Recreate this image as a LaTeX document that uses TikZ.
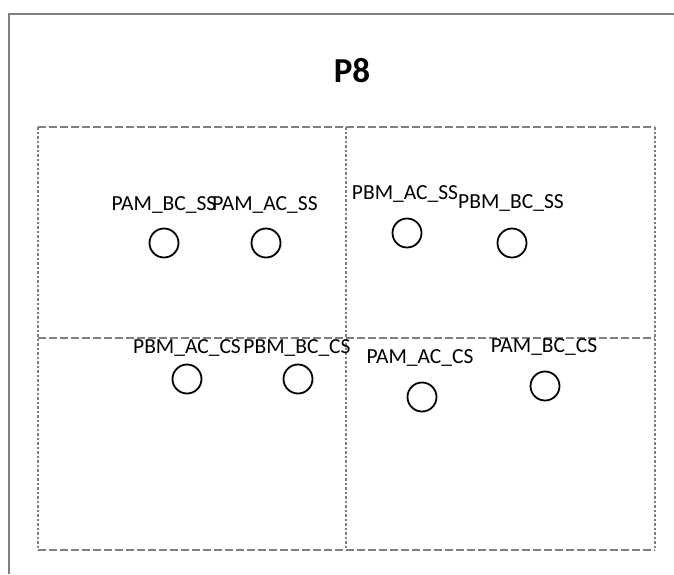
\documentclass[tikz,border=0pt]{standalone}
\usepackage{fontspec}
\setmainfont{Carlito}
\definecolor{framegray}{RGB}{127,127,127}
\tikzset{
  lbl/.style={anchor=base,inner sep=0pt,font=\fontsize{21.5}{24}\selectfont},
  probe/.style={circle,draw,line width=1.8pt,minimum size=29pt,inner sep=0pt},
  dashln/.style={framegray,line width=2.3pt,dash pattern=on 8pt off 3pt},
  dotln/.style={framegray,line width=2.3pt,dash pattern=on 2.5pt off 2pt}
}
\begin{document}
\begin{tikzpicture}[x=1pt,y=-1pt]
\useasboundingbox (0,0) rectangle (674,574);
\draw[framegray,line width=2pt] (9,574) -- (9,14) -- (674,14);
\node[font=\fontsize{35}{38}\selectfont\bfseries] (title) at (352,71) {P8};
\draw[dashln] (38,127) -- (655,127);
\draw[dashln] (38,338) -- (655,338);
\draw[dashln] (38,550) -- (655,550);
\draw[dotln] (38,127) -- (38,550);
\draw[dotln] (346,127) -- (346,550);
\draw[dotln] (655,127) -- (655,550);
\node[probe] (pambcss) at (164,243) {};
\node[probe] (pamacss) at (266,243) {};
\node[probe] (pbmacss) at (407,233) {};
\node[probe] (pbmbcss) at (512,243) {};
\node[probe] (pbmaccs) at (187,379) {};
\node[probe] (pbmbccs) at (298,379) {};
\node[probe] (pamaccs) at (422,397) {};
\node[probe] (pambccs) at (545,386) {};
\node[lbl] (lpambcss) at (164,210) {PAM\_BC\_SS};
\node[lbl] (lpamacss) at (265,210) {PAM\_AC\_SS};
\node[lbl] (lpbmacss) at (405,199) {PBM\_AC\_SS};
\node[lbl] (lpbmbcss) at (511,208) {PBM\_BC\_SS};
\node[lbl] (lpbmaccs) at (187,353) {PBM\_AC\_CS};
\node[lbl] (lpbmbccs) at (297,353) {PBM\_BC\_CS};
\node[lbl] (lpamaccs) at (420,363) {PAM\_AC\_CS};
\node[lbl] (lpambccs) at (544,352) {PAM\_BC\_CS};
\end{tikzpicture}
\end{document}
